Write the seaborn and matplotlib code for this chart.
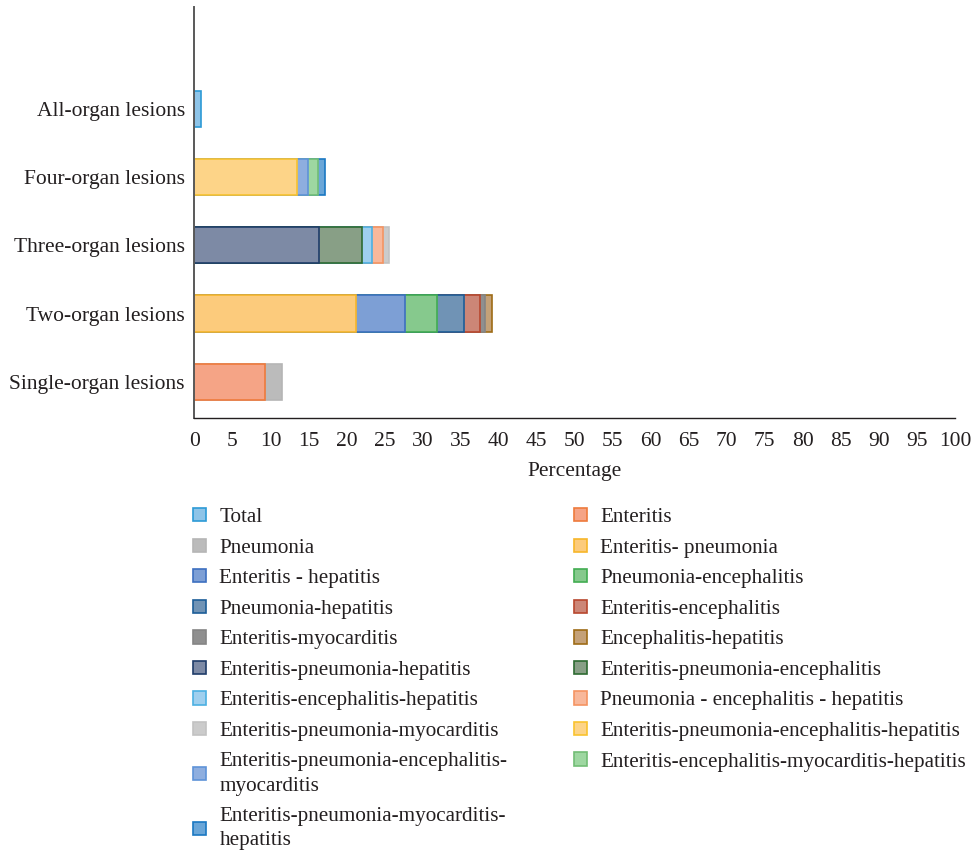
import numpy as np
import pandas as pd
import seaborn as sns
import matplotlib.pyplot as plt
from matplotlib.patches import Patch

# categorias (de arriba a abajo)
categories = ["All-organ lesions", "Four-organ lesions", "Three-organ lesions",
              "Two-organ lesions", "Single-organ lesions"]

# series en orden de apilado
series = ["Total", "Enteritis", "Pneumonia", "Enteritis- pneumonia",
          "Enteritis - hepatitis", "Pneumonia-encephalitis", "Pneumonia-hepatitis",
          "Enteritis-encephalitis", "Enteritis-myocarditis", "Encephalitis-hepatitis",
          "Enteritis-pneumonia-hepatitis", "Enteritis-pneumonia-encephalitis",
          "Enteritis-encephalitis-hepatitis", "Pneumonia - encephalitis - hepatitis",
          "Enteritis-pneumonia-myocarditis", "Enteritis-pneumonia-encephalitis-hepatitis",
          "Enteritis-pneumonia-encephalitis-\nmyocarditis",
          "Enteritis-encephalitis-myocarditis-hepatitis",
          "Enteritis-pneumonia-myocarditis-\nhepatitis"]
group = ["All-organ lesions", "Single-organ lesions", "Single-organ lesions",
         "Two-organ lesions", "Two-organ lesions", "Two-organ lesions", "Two-organ lesions",
         "Two-organ lesions", "Two-organ lesions", "Two-organ lesions",
         "Three-organ lesions", "Three-organ lesions", "Three-organ lesions",
         "Three-organ lesions", "Three-organ lesions",
         "Four-organ lesions", "Four-organ lesions", "Four-organ lesions", "Four-organ lesions"]
values = [0.8, 9.3, 2.2, 21.3, 6.4, 4.2, 3.6, 2.1, 0.6, 0.9,
          16.4, 5.6, 1.4, 1.4, 0.8, 13.5, 1.4, 1.4, 0.8]

fills = ["#8ec4e8", "#f5a486", "#bbbbbb", "#fccb7c", "#7d9fd5", "#86c98d", "#7093b5",
         "#cc8677", "#8f8f8f", "#c4a178", "#7d8aa5", "#889f86", "#9fcfee", "#f8b89b",
         "#cbcbcb", "#fdd488", "#8eaedf", "#9ed7a1", "#6aa6d8"]
edges = ["#2c9ad6", "#ee7a3c", "#b5b5b5", "#f7b62a", "#3d6fc0", "#42ad52", "#1c5d98",
         "#b8472e", "#858585", "#9e6c16", "#1f3c6a", "#2d6b31", "#4cb0e2", "#f59462",
         "#c2c2c2", "#f9c32f", "#5f93d8", "#72bd75", "#1a78c2"]

df = pd.DataFrame({"serie": series, "grupo": group, "valor": values})
df["acum"] = df.groupby("grupo")["valor"].cumsum()

sns.set_theme(style="white")
plt.rcParams["font.family"] = ["Liberation Serif", "DejaVu Serif"]
plt.rcParams["text.color"] = "#231f20"
plt.rcParams["axes.labelcolor"] = "#231f20"
plt.rcParams["xtick.color"] = "#231f20"
plt.rcParams["ytick.color"] = "#231f20"
fs = 15.5

fig = plt.figure(figsize=(9.72, 8.58), dpi=100)
ax = fig.add_axes([0.2001, 0.5128, 0.7824, 0.479])

# apilado: se dibujan los acumulados de mayor a menor
for i in range(len(df) - 1, -1, -1):
    fila = df.iloc[[i]]
    sns.barplot(data=fila, x="acum", y="grupo", order=categories, orient="h",
                color=fills[i], edgecolor=edges[i], linewidth=1.2, width=0.53,
                saturation=1, ax=ax)

ax.set_xlim(0, 100)
ax.set_ylim(4.53, -1.49)
ax.set_xticks(np.arange(0, 101, 5))
ax.set_xlabel("Percentage", fontsize=fs, labelpad=8)
ax.set_ylabel("")
ax.tick_params(axis="both", length=0, labelsize=fs)
ax.tick_params(axis="x", pad=10)
ax.tick_params(axis="y", pad=7)
sns.despine(ax=ax, top=True, right=True)
ax.spines["left"].set_color("#595959")
ax.spines["left"].set_linewidth(1.4)
ax.spines["bottom"].set_color("#231f20")
ax.spines["bottom"].set_linewidth(1.0)

handles = [Patch(facecolor=fills[i], edgecolor=edges[i], linewidth=1.2, label=series[i])
           for i in range(len(series))]
izq = handles[0::2]
der = handles[1::2]
kw = dict(frameon=False, fontsize=15.2, handlelength=0.6, handleheight=0.6,
          handletextpad=0.65, labelspacing=0.54, borderpad=0, borderaxespad=0,
          loc="upper left", bbox_transform=fig.transFigure)
leg1 = fig.legend(handles=izq, bbox_to_anchor=(193 / 972, 1 - 508 / 858), **kw)
leg2 = fig.legend(handles=der, bbox_to_anchor=(574 / 972, 1 - 508 / 858), **kw)
for leg in (leg1, leg2):
    for t in leg.get_texts():
        t.set_linespacing(1.38)

fig.savefig("out.png", dpi=100)
